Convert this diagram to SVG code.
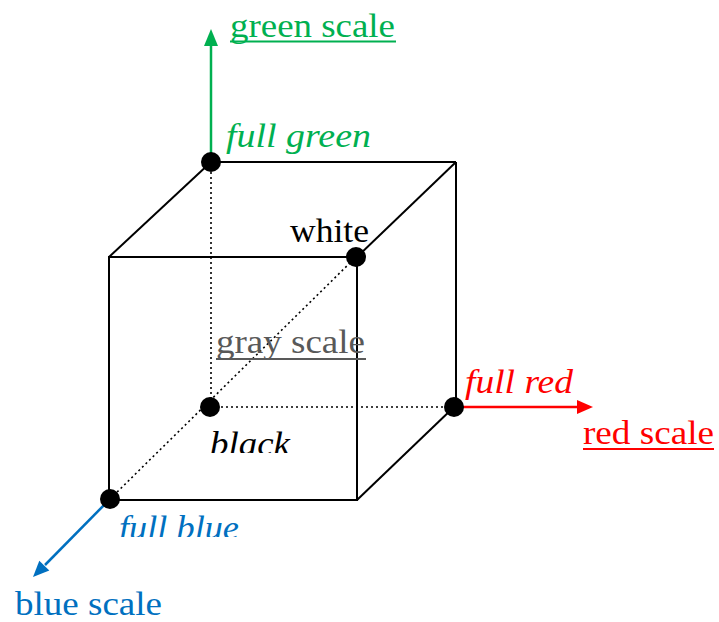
<svg xmlns="http://www.w3.org/2000/svg" width="719" height="622" viewBox="0 0 719 622">
  <style>
    .edge { stroke: #000; stroke-width: 2; fill: none; }
    .hidden { stroke: #000; stroke-width: 1.6; stroke-dasharray: 2 3; fill: none; }
    .dot { fill: #000; }
    .lbl { font-family: "Liberation Serif", "Times New Roman", serif; font-size: 34px; }
    .it { font-style: italic; }
    .green { fill: #00b050; }
    .red { fill: #ff0000; }
    .blue { fill: #0070c0; }
    .gray { fill: #595959; }
  </style>
  <defs>
    <clipPath id="clipBlack"><rect x="190" y="400" width="130" height="53"/></clipPath>
    <clipPath id="clipBlue"><rect x="100" y="500" width="160" height="37"/></clipPath>
  </defs>
  <rect width="719" height="622" fill="#fff"/>

  <g id="connectors">
    <!-- cube solid edges -->
    <line class="edge" x1="211" y1="162" x2="456" y2="162"/>
    <line class="edge" x1="456" y1="162" x2="456" y2="407"/>
    <line class="edge" x1="109" y1="257" x2="211" y2="162"/>
    <line class="edge" x1="357" y1="257" x2="456" y2="162"/>
    <line class="edge" x1="357" y1="500" x2="454" y2="407"/>
    <rect class="edge" x="109" y="257" width="248" height="243"/>
    <!-- hidden edges -->
    <line class="hidden" x1="211" y1="162" x2="211" y2="407"/>
    <line class="hidden" x1="211" y1="407" x2="454" y2="407"/>
    <line class="hidden" x1="110" y1="499" x2="356" y2="257"/>
    <!-- axes -->
    <line x1="211" y1="162" x2="211" y2="44" stroke="#00b050" stroke-width="2.5"/>
    <polygon points="211,29 204,46 218,46" fill="#00b050"/>
    <line x1="454" y1="407" x2="579" y2="407" stroke="#ff0000" stroke-width="2.5"/>
    <polygon points="593,407 577,400 577,414" fill="#ff0000"/>
    <line x1="110" y1="499" x2="45" y2="565" stroke="#0070c0" stroke-width="2.5"/>
    <polygon points="33,577 49.3,570.6 39.3,560.7" fill="#0070c0"/>
  </g>

  <g id="node-full-green">
    <circle class="dot" cx="211" cy="162" r="10"/>
    <text class="lbl it green" x="226" y="147" textLength="145" lengthAdjust="spacingAndGlyphs">full green</text>
  </g>
  <g id="node-green-scale">
    <text class="lbl green" x="230" y="37" textLength="165" lengthAdjust="spacingAndGlyphs">green scale</text>
    <line x1="230" y1="41.5" x2="396" y2="41.5" stroke="#00b050" stroke-width="2"/>
  </g>
  <g id="node-white">
    <circle class="dot" cx="356" cy="257" r="10"/>
    <text class="lbl" x="290" y="242" textLength="79" lengthAdjust="spacingAndGlyphs">white</text>
  </g>
  <g id="node-gray-scale">
    <text class="lbl gray" x="216" y="353" textLength="149" lengthAdjust="spacingAndGlyphs">gray scale</text>
    <line x1="216" y1="359" x2="366" y2="359" stroke="#595959" stroke-width="2"/>
  </g>
  <g id="node-black">
    <circle class="dot" cx="210" cy="407" r="10"/>
    <text class="lbl it" x="210" y="455" textLength="80" lengthAdjust="spacingAndGlyphs" clip-path="url(#clipBlack)">black</text>
  </g>
  <g id="node-full-red">
    <circle class="dot" cx="454" cy="407" r="10"/>
    <text class="lbl it red" x="465" y="393" textLength="108" lengthAdjust="spacingAndGlyphs">full red</text>
  </g>
  <g id="node-red-scale">
    <text class="lbl red" x="583" y="444" textLength="131" lengthAdjust="spacingAndGlyphs">red scale</text>
    <line x1="583" y1="449" x2="714" y2="449" stroke="#ff0000" stroke-width="2"/>
  </g>
  <g id="node-full-blue">
    <circle class="dot" cx="110" cy="499" r="10"/>
    <text class="lbl it blue" x="119" y="539" textLength="120" lengthAdjust="spacingAndGlyphs" clip-path="url(#clipBlue)">full blue</text>
  </g>
  <g id="node-blue-scale">
    <text class="lbl blue" x="15" y="615" textLength="147" lengthAdjust="spacingAndGlyphs">blue scale</text>
  </g>
</svg>
